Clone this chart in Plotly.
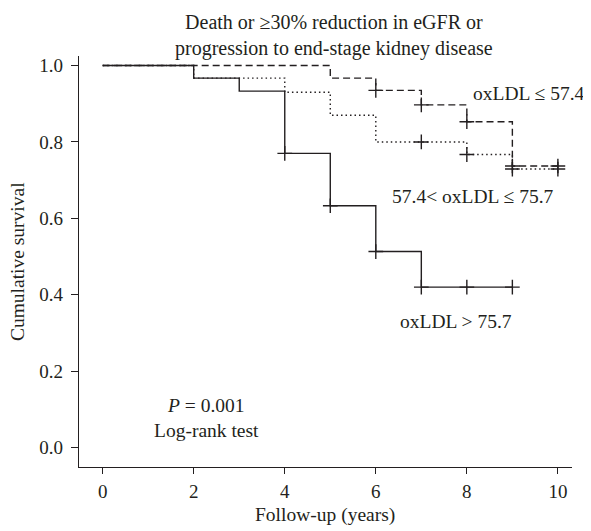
import plotly.graph_objects as go

# ---- data ----
low_t = [0, 5, 6, 7, 8, 9, 10]
low_s = [1.0, 0.967, 0.935, 0.897, 0.853, 0.737, 0.737]
low_cens_t = [6, 7, 8, 9, 10]
low_cens_s = [0.935, 0.897, 0.853, 0.737, 0.737]

mid_t = [0, 2, 4, 5, 6, 8, 9, 10]
mid_s = [1.0, 0.967, 0.93, 0.87, 0.80, 0.767, 0.729, 0.729]
mid_cens_t = [7, 8, 9, 10]
mid_cens_s = [0.80, 0.767, 0.729, 0.729]

high_t = [0, 2, 3, 4, 5, 6, 7, 9]
high_s = [1.0, 0.967, 0.933, 0.77, 0.633, 0.513, 0.42, 0.42]
high_cens_t = [4, 5, 6, 7, 8, 9]
high_cens_s = [0.77, 0.633, 0.513, 0.42, 0.42, 0.42]

x_ticks = [0, 2, 4, 6, 8, 10]
y_ticks = [0.0, 0.2, 0.4, 0.6, 0.8, 1.0]

labels = ["oxLDL ≤ 57.4", "57.4< oxLDL ≤ 75.7", "oxLDL > 75.7"]

INK = "#231f20"
FONT = "Liberation Serif"
FS = 19
FS_TXT = 19.5

fig = go.Figure()

groups = [
    (mid_t, mid_s, mid_cens_t, mid_cens_s, "1.5px,3px"),
    (low_t, low_s, low_cens_t, low_cens_s, "7px,4px"),
    (high_t, high_s, high_cens_t, high_cens_s, "solid"),
]
for t, s, ct, cs, dash in groups:
    fig.add_trace(go.Scatter(x=t, y=s, mode="lines", line_shape="hv",
                             line=dict(color=INK, width=1.4, dash=dash),
                             hoverinfo="skip", showlegend=False))
    fig.add_trace(go.Scatter(x=ct, y=cs, mode="markers",
                             marker=dict(symbol="cross-thin", size=10.5,
                                         line=dict(color=INK, width=1.4)),
                             hoverinfo="skip", showlegend=False))

tf = dict(family=FONT, size=FS_TXT, color=INK)
ann = []
ann.append(dict(x=1.03, y=0.928, text=labels[0], xanchor="right", yanchor="middle",
                showarrow=False, xref="paper", yref="y", font=tf))
ann.append(dict(x=6.31, y=0.657, text=labels[1], xanchor="left", yanchor="middle",
                showarrow=False, xref="x", yref="y", font=tf))
ann.append(dict(x=6.49, y=0.329, text=labels[2], xanchor="left", yanchor="middle",
                showarrow=False, xref="x", yref="y", font=tf))
ann.append(dict(x=2.27, y=0.111, text="<i>P</i> = 0.001", xanchor="center", yanchor="middle",
                showarrow=False, xref="x", yref="y", font=tf))
ann.append(dict(x=2.27, y=0.0435, text="Log-rank test", xanchor="center", yanchor="middle",
                showarrow=False, xref="x", yref="y", font=tf))
# chart title
ann.append(dict(x=0.517, y=1.05, xref="paper", yref="paper",
                text="Death or ≥30% reduction in eGFR or<br>progression to end-stage kidney disease",
                xanchor="center", yanchor="middle", showarrow=False,
                font=dict(family=FONT, size=20, color=INK)))
# axis titles
ann.append(dict(x=0.498, y=-0.116, xref="paper", yref="paper", text="Follow-up (years)",
                xanchor="center", yanchor="middle", showarrow=False, font=tf))
ann.append(dict(x=-0.1245, y=0.5, xref="paper", yref="paper", text="Cumulative survival",
                textangle=-90, xanchor="center", yanchor="middle", showarrow=False, font=tf))

# the page body has an 8px margin, so the figure is sized/positioned to compensate
fig.update_layout(
    width=583, height=523,
    margin=dict(l=71, r=19, t=48, b=64, pad=0),
    paper_bgcolor="white", plot_bgcolor="white",
    font=dict(family=FONT, size=FS, color=INK),
    annotations=ann,
    showlegend=False,
)
fig.update_xaxes(range=[-0.52, 10.31], tickvals=x_ticks, ticktext=[str(v) for v in x_ticks],
                 showline=True, linecolor=INK, linewidth=1.4, ticks="outside",
                 ticklen=6, tickwidth=1.4, tickcolor=INK, showgrid=False, zeroline=False,
                 ticklabelstandoff=1)
fig.update_yaxes(range=[-0.051, 1.025], tickvals=y_ticks, ticktext=[f"{v:.1f}" for v in y_ticks],
                 showline=True, linecolor=INK, linewidth=1.4, ticks="outside",
                 ticklen=7, tickwidth=1.4, tickcolor=INK, showgrid=False, zeroline=False,
                 ticklabelstandoff=4)

fig.write_html("out.html")
